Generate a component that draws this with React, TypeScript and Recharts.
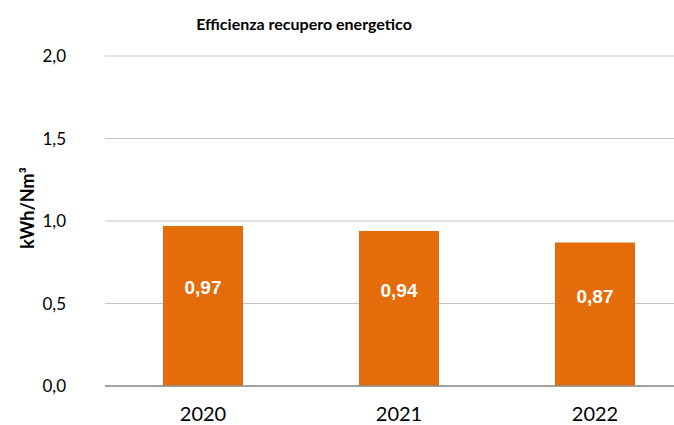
import { BarChart, Bar, XAxis, YAxis, CartesianGrid, LabelList } from "recharts";

const years = ["2020", "2021", "2022"];
const efficiency = [0.97, 0.94, 0.87];
const yTicks = [0, 0.5, 1, 1.5, 2];

const chartData = years.map((year, i) => ({ year, value: efficiency[i] }));

const fmt = (v: number, digits: number) => v.toFixed(digits).replace(".", ",");

const BarValue = (props: any) => {
  const { x, y, width, height, value } = props;
  return (
    <text
      x={x + width / 2}
      y={y + height / 2 - 18}
      textAnchor="middle"
      dominantBaseline="central"
      fill="#ffffff"
      fontFamily="'Liberation Sans', Arial, sans-serif"
      fontWeight="bold"
      fontSize={19}
    >
      {fmt(value, 2)}
    </text>
  );
};

const App = () => {
  return (
    <div
      style={{
        position: "absolute",
        left: 0,
        top: 0,
        width: 674,
        height: 425,
        overflow: "hidden",
        background: "#ffffff",
      }}
    >
      <BarChart
        width={720}
        height={425}
        data={chartData}
        margin={{ top: 56, right: 27, bottom: 0, left: 0 }}
      >
        <text
          x={304}
          y={23}
          textAnchor="middle"
          dominantBaseline="central"
          fontFamily="Lato, sans-serif"
          fontWeight="bold"
          fontSize={16}
          fill="#000000"
        >
          Efficienza recupero energetico
        </text>
        <CartesianGrid vertical={false} stroke="#c4c4c4" />
        <XAxis
          dataKey="year"
          height={39}
          tickLine={false}
          tickSize={0}
          tickMargin={21}
          axisLine={{ stroke: "#8c8c8c", strokeWidth: 1.5 }}
          tick={{ fill: "#000000", fontFamily: "Lato, sans-serif", fontSize: 20 }}
        />
        <YAxis
          width={105}
          domain={[0, 2]}
          ticks={yTicks}
          tickFormatter={(v: number) => fmt(v, 1)}
          axisLine={false}
          tickLine={false}
          tickSize={0}
          tickMargin={39}
          tick={{ fill: "#000000", fontFamily: "Lato, sans-serif", fontSize: 17 }}
          label={{
            content: () => (
              <text
                x={27}
                y={208}
                transform="rotate(-90 27 208)"
                textAnchor="middle"
                dominantBaseline="central"
                fontFamily="Lato, sans-serif"
                fontWeight="bold"
                fontSize={18}
                fill="#000000"
              >
                kWh/Nm³
              </text>
            ),
          }}
        />
        <Bar dataKey="value" fill="#e46c0a" barSize={80} isAnimationActive={false}>
          <LabelList dataKey="value" content={BarValue} />
        </Bar>
      </BarChart>
    </div>
  );
};

export default App;
